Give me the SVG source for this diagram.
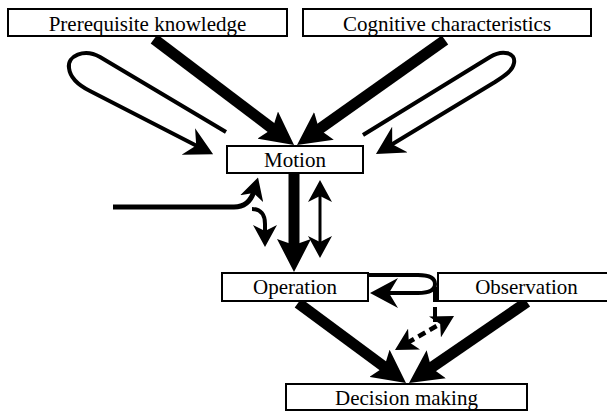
<svg xmlns="http://www.w3.org/2000/svg" width="607" height="411" viewBox="0 0 607 411">
  <style>
    .box { fill: #fff; stroke: #000; stroke-width: 2; }
    .label { font-family: "Liberation Serif", "Times New Roman", serif; font-size: 21px; text-anchor: middle; fill: #000; }
    .thick { fill: none; stroke: #000; stroke-width: 11; marker-end: url(#head-thick); }
    .loop { fill: none; stroke: #000; stroke-width: 4; marker-end: url(#head-loop); }
    .thin { fill: none; stroke: #000; stroke-width: 4; marker-end: url(#head-thin); }
    .both { marker-start: url(#head-thin); }
    .dash { stroke-dasharray: 8 5; }
    .plain { fill: none; stroke: #000; stroke-width: 4; }
  </style>
  <defs>
    <marker id="head-thick" markerUnits="userSpaceOnUse" viewBox="-33 -17 33 34" markerWidth="33" markerHeight="34" refX="-24" refY="0" orient="auto">
      <path d="M0,0 L-33,-17 L-27,0 L-33,17 Z" fill="#000"/>
    </marker>
    <marker id="head-loop" markerUnits="userSpaceOnUse" viewBox="-28 -15 28 30" markerWidth="28" markerHeight="30" refX="-17" refY="0" orient="auto">
      <path d="M0,0 L-28,-15 L-19,0 L-28,15 Z" fill="#000"/>
    </marker>
    <marker id="head-thin" markerUnits="userSpaceOnUse" viewBox="-22 -12 22 24" markerWidth="22" markerHeight="24" refX="-14" refY="0" orient="auto-start-reverse">
      <path d="M0,0 L-22,-12 L-16,0 L-22,12 Z" fill="#000"/>
    </marker>
  </defs>

  <g id="connectors">
    <!-- heavy influence arrows -->
    <path class="thick" d="M154,39 L274.9,130.5"/>
    <path class="thick" d="M445,40 L316.6,131.1"/>
    <path class="thick" d="M294,173 L294,248"/>
    <path class="thick" d="M298,303 L386.7,368.7"/>
    <path class="thick" d="M527,302 L428.8,369.4"/>

    <!-- feedback loops into Motion -->
    <path class="loop" d="M226,132 L100,57 C84,48 67,56 69,68 C70,77 78,85 90,91 L198,146.5"/>
    <path class="loop" d="M363,135 L490,57 C503,49 516,53 514,63 C513,70 506,75 495,82 L390.5,145.2"/>

    <!-- side input between Motion and Operation -->
    <path class="thin" style="stroke-width:5" d="M113,207 L234,207 C245,207 251,201 254,191"/>
    <path class="thin" d="M252,209 C261,209 265,215 265,224 L265,233"/>
    <path class="thin both" style="stroke-width:3" d="M320,194 L320,244"/>

    <!-- Operation / Observation return loop -->
    <path class="loop" d="M368,275 L418,275 C431,275 435,279 435,284 C435,289 431,293 418,293 L387,293"/>
    <path class="plain" d="M435,287 L435,302 M435,307 L435,322"/>
    <path class="thin both dash" style="stroke-width:4.5" d="M407.1,343 L441.9,323"/>
  </g>

  <g id="prerequisite-knowledge">
    <rect class="box" x="8" y="9" width="279" height="27"/>
    <text class="label" x="147.5" y="31">Prerequisite knowledge</text>
  </g>
  <g id="cognitive-characteristics">
    <rect class="box" x="303" y="9" width="288" height="27"/>
    <text class="label" x="447" y="31">Cognitive characteristics</text>
  </g>
  <g id="motion">
    <rect class="box" x="227" y="146" width="136" height="27"/>
    <text class="label" x="295" y="167">Motion</text>
  </g>
  <g id="operation">
    <rect class="box" x="222" y="273" width="146" height="28"/>
    <text class="label" x="295" y="294">Operation</text>
  </g>
  <g id="observation">
    <rect class="box" x="438" y="273" width="176" height="28"/>
    <text class="label" x="526.5" y="294">Observation</text>
  </g>
  <g id="decision-making">
    <rect class="box" x="286" y="384" width="241" height="26"/>
    <text class="label" x="406.5" y="405">Decision making</text>
  </g>
</svg>
